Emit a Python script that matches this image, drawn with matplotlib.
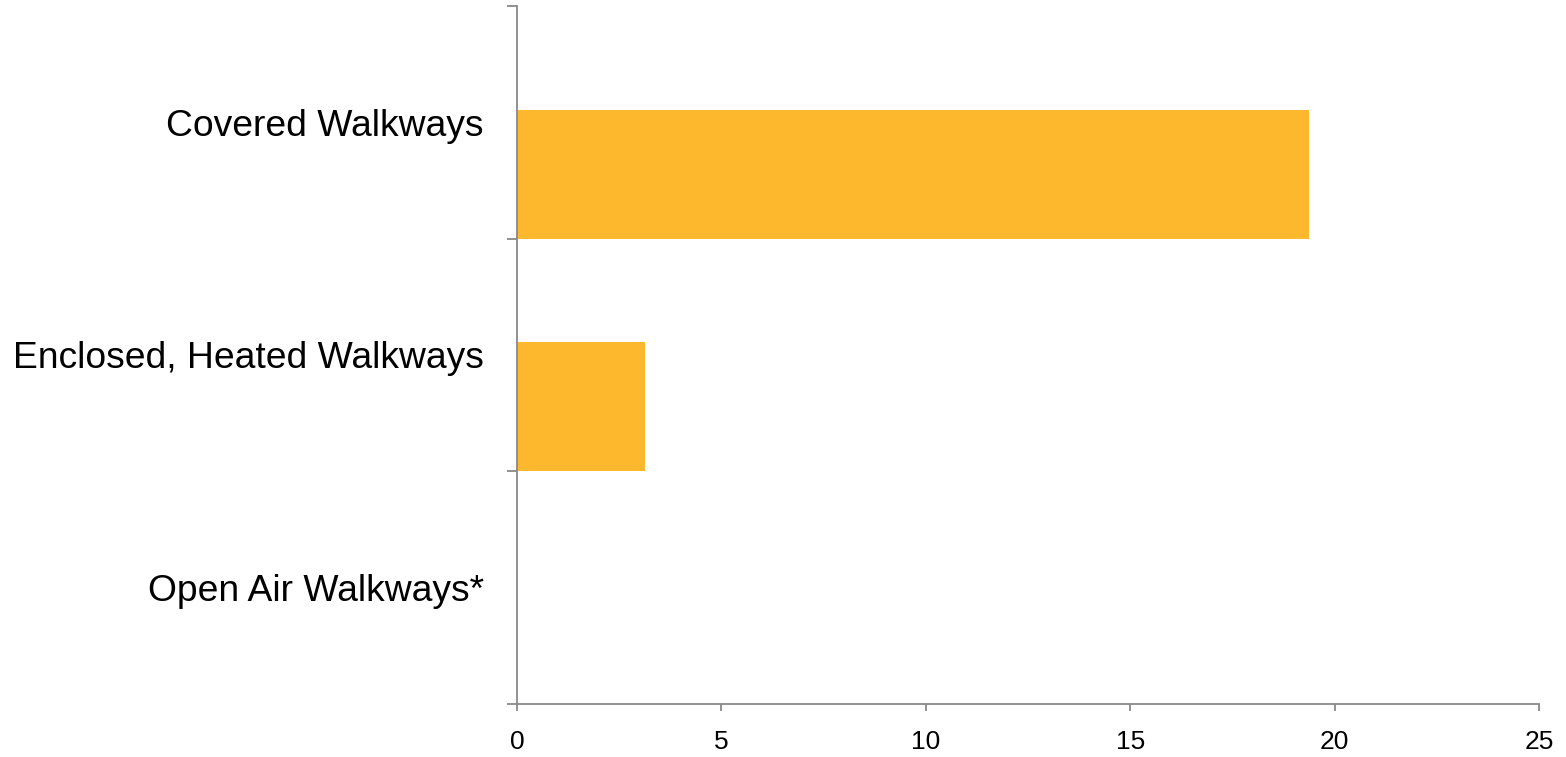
import matplotlib
matplotlib.use('Agg')
import matplotlib.pyplot as plt
import numpy as np

# données
categories = ['Open Air Walkways*', 'Enclosed, Heated Walkways', 'Covered Walkways']
valeurs = [0, 3.12, 19.37]
xticks = [0, 5, 10, 15, 20, 25]

couleur = '#FDB82E'
gris = '#898989'

plt.rcParams['font.family'] = ['Liberation Sans', 'DejaVu Sans']

fig = plt.figure(figsize=(15.66, 7.57), dpi=100)
ax = fig.add_axes([517/1566, 1 - 704/757, (1539 - 517)/1566, (704 - 6)/757])

pos = np.arange(len(categories))
# barres collées au bas de chaque bande de catégorie (comme sous Excel)
ax.barh(pos - 0.5, valeurs, height=0.554, align='edge', color=couleur)

ax.set_xlim(0, 25)
ax.set_ylim(-0.5, len(categories) - 0.5)
ax.set_xticks(xticks)
ax.set_xticklabels([str(t) for t in xticks], fontsize=19)

ax.set_yticks(pos)
ax.set_yticklabels(categories, fontsize=26.8)
ax.set_yticks(np.arange(len(categories) + 1) - 0.5, minor=True)

ax.tick_params(axis='y', which='major', length=0, pad=24)
ax.tick_params(axis='y', which='minor', length=7.2, width=1.3, color=gris, direction='out')
ax.tick_params(axis='x', length=5, width=1.3, color=gris, direction='out', pad=14)

for s in ['top', 'right']:
    ax.spines[s].set_visible(False)
for s in ['left', 'bottom']:
    ax.spines[s].set_color(gris)
    ax.spines[s].set_linewidth(1.3)

fig.savefig('out.png', dpi=100)
